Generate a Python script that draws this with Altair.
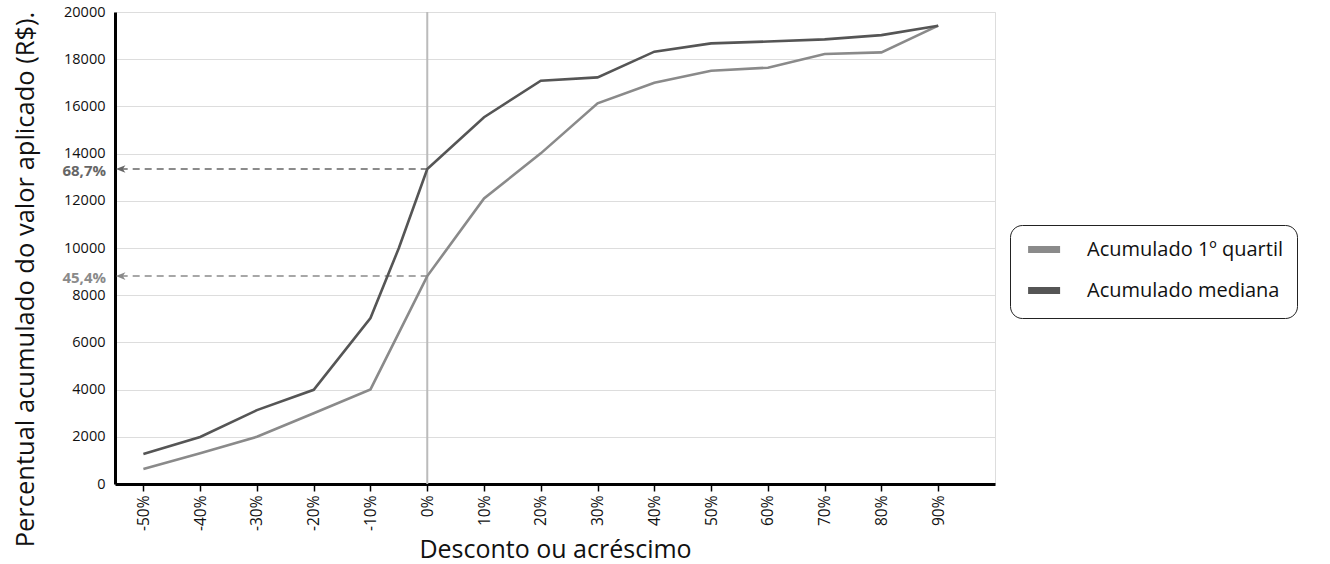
import altair as alt
import pandas as pd

# ---- data ----
x_vals = [-50, -40, -30, -20, -10, -5, 0, 10, 20, 30, 40, 50, 60, 70, 80, 90]
mediana = [1270, 1990, 3130, 3990, 7030, 10000, 13350, 15540, 17090, 17230,
           18320, 18670, 18750, 18840, 19020, 19420]
quartil = [640, 1300, 2000, 3000, 4010, None, 8810, 12100, 14010, 16130,
           17000, 17510, 17640, 18220, 18290, 19420]
series_names = ["Acumulado 1º quartil", "Acumulado mediana"]
series_colors = ["#8a8a8a", "#555555"]

tick_values = [-50, -40, -30, -20, -10, 0, 10, 20, 30, 40, 50, 60, 70, 80, 90]
y_ticks = [0, 2000, 4000, 6000, 8000, 10000, 12000, 14000, 16000, 18000, 20000]

ann_values = [13350, 8810]
ann_labels = ["68,7%", "45,4%"]
ann_colors = ["#666666", "#8a8a8a"]
ann_start = -54

FONT = "Open Sans"

rows = []
for name, vals in zip(series_names, [quartil, mediana]):
    for xv, yv in zip(x_vals, vals):
        if yv is not None:
            rows.append({"x": xv, "y": yv, "serie": name})
df = pd.DataFrame(rows)

ann = pd.DataFrame({"x0": [ann_start] * 2, "x1": [0, 0], "y": ann_values,
                    "label": ann_labels, "color": ann_colors,
                    "xl": [-55, -55]})

xscale = alt.Scale(domain=[-55, 100], nice=False, zero=False)
yscale = alt.Scale(domain=[0, 20000], nice=False)

base = alt.Chart(df)

lines = base.mark_line(strokeWidth=2.6).encode(
    x=alt.X("x:Q", scale=xscale,
            axis=alt.Axis(values=tick_values, labelExpr="datum.value + '%'",
                          labelAngle=270, grid=False, domainColor="#000",
                          domainWidth=3, tickColor="#000", tickWidth=1.5,
                          tickSize=7, labelFontSize=15.5, labelColor="#111",
                          labelFont=FONT, labelPadding=4,
                          title="Desconto ou acréscimo", titleFont=FONT,
                          titleFontSize=25, titleFontWeight="normal",
                          titleColor="#111", titlePadding=7)),
    y=alt.Y("y:Q", scale=yscale,
            axis=alt.Axis(values=y_ticks, format="d", grid=True,
                          gridColor="#dddddd",
                          gridWidth=1.2, domainColor="#000", domainWidth=3,
                          ticks=False, labelFontSize=14.5, labelColor="#111",
                          labelFont=FONT, labelPadding=10,
                          title="Percentual acumulado do valor aplicado (R$).",
                          titleFont=FONT, titleFontSize=25.5,
                          titleFontWeight="normal", titleColor="#111",
                          titlePadding=25, titleY=267)),
    color=alt.Color("serie:N",
                    scale=alt.Scale(domain=series_names, range=series_colors),
                    legend=alt.Legend(title=None, orient="none",
                                      legendX=895, legendY=213,
                                      symbolType="M-0.8,0H3.2",
                                      symbolStrokeWidth=7,
                                      symbolSize=256, labelFontSize=20,
                                      labelFont=FONT, labelColor="#111",
                                      labelLimit=400,
                                      labelOffset=41, padding=13,
                                      rowPadding=12, strokeColor="#222",
                                      cornerRadius=12, fillColor="#ffffff")),
    order="x:Q",
)

zero_rule = alt.Chart(pd.DataFrame({"x": [0]})).mark_rule(
    color="#bbbbbb", strokeWidth=2).encode(x=alt.X("x:Q", scale=xscale))

annb = alt.Chart(ann)
dashes = annb.mark_rule(strokeWidth=1.5, strokeDash=[7, 5]).encode(
    x=alt.X("x0:Q", scale=xscale), x2="x1:Q",
    y=alt.Y("y:Q", scale=yscale),
    color=alt.Color("color:N", scale=None))

arrows = annb.mark_point(filled=True, opacity=1, size=90,
                         shape="M-1,0 L1,-0.8 L0.45,0 L1,0.8 Z").encode(
    x=alt.X("x0:Q", scale=xscale), y=alt.Y("y:Q", scale=yscale),
    color=alt.Color("color:N", scale=None))

labels = annb.mark_text(align="right", baseline="middle", dx=-9, dy=2,
                        fontWeight="bold", fontSize=15, font=FONT).encode(
    x=alt.X("xl:Q", scale=xscale), y=alt.Y("y:Q", scale=yscale),
    text="label:N", color=alt.Color("color:N", scale=None))

chart = alt.layer(zero_rule, dashes, lines, arrows, labels).properties(
    width=880, height=472, autosize="none",
    padding={"left": 115, "top": 12, "right": 335, "bottom": 80},
).configure_view(stroke=None).configure(background="white")

chart.save("out.html", embed_options={"renderer": "svg", "actions": False})
